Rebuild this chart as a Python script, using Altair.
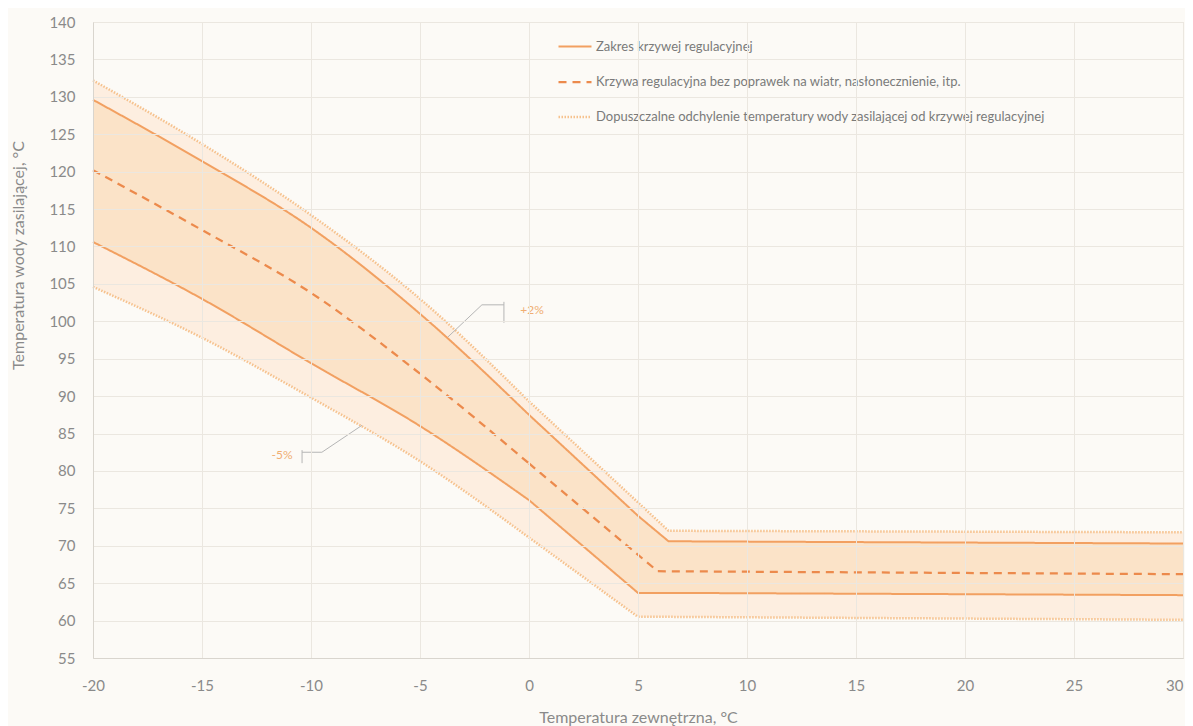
import altair as alt
import pandas as pd

# --- data ---
temps = [-20, -15, -10, -5, 0, 5, 6.4, 30]
upper_dotted = [132.2, 123.7, 114.2, 103.0, 89.3, 75.8, 72.0, 71.8]
upper_solid = [129.6, 121.4, 112.5, 101.0, 87.5, 74.0, 70.6, 70.3]
lower_solid = [110.6, 103.0, 94.4, 86.0, 76.1, 63.7, 63.7, 63.4]
lower_dotted = [104.6, 97.8, 89.8, 81.3, 71.1, 60.5, 60.5, 60.1]

temps_dashed = [-20, -15, -10, -5, 0, 5.9, 30]
dashed = [120.2, 112.2, 103.8, 93.0, 81.0, 66.6, 66.2]

series_names = [
    "Zakres krzywej regulacyjnej",
    "Krzywa regulacyjna bez poprawek na wiatr, nasłonecznienie, itp.",
    "Dopuszczalne odchylenie temperatury wody zasilającej od krzywej regulacyjnej",
]

x_ticks = list(range(-20, 31, 5))
y_ticks = list(range(55, 141, 5))

ann_labels = ["+2%", "-5%"]
ann_text_x = [0.14, -11.33]
ann_text_y = [101.5, 82.1]

# bracket leader lines (x, y pairs per path)
leader_plus = [(-3.72, 97.9), (-2.16, 102.2), (-1.15, 102.2)]
leader_plus_v = [(-1.15, 102.6), (-1.15, 99.8)]
leader_minus = [(-7.66, 86.1), (-9.5, 82.5), (-10.41, 82.5)]
leader_minus_v = [(-10.41, 82.78), (-10.41, 81.04)]

# --- tables ---
band = pd.DataFrame({
    "t": temps,
    "ud": upper_dotted,
    "us": upper_solid,
    "ls": lower_solid,
    "ld": lower_dotted,
})
band_curved = band[band["t"] <= 0]
band_straight = band[band["t"] >= 0]

rows = []
for name, xs, ys, ser in [
    ("us", temps, upper_solid, series_names[0]),
    ("ls", temps, lower_solid, series_names[0]),
    ("ud", temps, upper_dotted, series_names[2]),
    ("ld", temps, lower_dotted, series_names[2]),
    ("d", temps_dashed, dashed, series_names[1]),
]:
    for i, (t, y) in enumerate(zip(xs, ys)):
        rows.append({"t": t, "v": y, "line": name, "series": ser, "o": i})
lines_df = pd.DataFrame(rows)
lines_curved = lines_df[lines_df["t"] <= 0]
lines_straight = lines_df[lines_df["t"] >= 0]

lead_rows = []
for k, path in enumerate([leader_plus, leader_plus_v, leader_minus, leader_minus_v]):
    for i, (t, y) in enumerate(path):
        lead_rows.append({"t": t, "v": y, "g": k, "o": i})
lead_df = pd.DataFrame(lead_rows)

ann_df = pd.DataFrame({"t": ann_text_x, "v": ann_text_y, "label": ann_labels})

FONT = "Lato"
GRAY = "#8a8a8a"

xscale = alt.Scale(domain=[-20, 30], nice=False, zero=False)
yscale = alt.Scale(domain=[55, 140], nice=False, zero=False)

x_axis = alt.Axis(
    values=x_ticks, tickCount=len(x_ticks) + 2, title="Temperatura zewnętrzna, °C",
    labelExpr="'' + datum.value", labelFlush=False, labelOverlap=False,
    labelAlign=alt.condition("datum.value >= 30", alt.value("right"), alt.value("center")),
    labelPadding=20, titlePadding=16, tickSize=0, labelFontSize=15,
    titleFontSize=16, labelColor=GRAY, titleColor=GRAY,
    gridColor="#ebe7e0", domainColor="#d9d5ce", labelFont=FONT, titleFont=FONT,
    titleFontWeight="normal", zindex=1,
)
y_axis = alt.Axis(
    values=y_ticks, tickCount=len(y_ticks) + 2, title="Temperatura wody zasilającej, °C",
    labelOverlap=False, labelPadding=18, tickSize=0, labelFontSize=15,
    titleFontSize=16, labelColor=GRAY, titleColor=GRAY, gridColor="#ebe7e0",
    domainColor="#d9d5ce", labelFont=FONT, titleFont=FONT, titleFontWeight="normal",
    titleX=-75, titleY=233, titleAngle=270, titleAlign="center", titleBaseline="middle",
    zindex=1,
)


def bands(df, interp, with_axes):
    xkw = {"axis": x_axis} if with_axes else {}
    ykw = {"axis": y_axis} if with_axes else {}
    b = alt.Chart(df)
    ou = b.mark_area(color="#fdeee0", interpolate=interp).encode(
        x=alt.X("t:Q", scale=xscale, **xkw),
        y=alt.Y("ud:Q", scale=yscale, **ykw),
        y2="us:Q",
    )
    ol = b.mark_area(color="#fdeee0", interpolate=interp).encode(
        x=alt.X("t:Q", scale=xscale), y=alt.Y("ls:Q", scale=yscale), y2="ld:Q",
    )
    inn = b.mark_area(color="#fbe3c8", interpolate=interp).encode(
        x=alt.X("t:Q", scale=xscale), y=alt.Y("us:Q", scale=yscale), y2="ls:Q",
    )
    return [ou, ol, inn]


def line_layer(df, interp, with_legend):
    lg = alt.Legend(title=None) if with_legend else None
    return alt.Chart(df).mark_line(interpolate=interp).encode(
        x=alt.X("t:Q", scale=xscale),
        y=alt.Y("v:Q", scale=yscale),
        detail="line:N",
        order="o:Q",
        color=alt.Color("series:N", scale=alt.Scale(domain=series_names,
                        range=["#f2a061", "#ec8a4c", "#f6c28e"]), legend=lg),
        strokeDash=alt.StrokeDash("series:N", scale=alt.Scale(domain=series_names,
                        range=[[1, 0], [8, 6], [1.5, 1.5]]), legend=lg),
        strokeWidth=alt.StrokeWidth("series:N", scale=alt.Scale(domain=series_names,
                        range=[2, 2.5, 1.5]), legend=lg),
    )


leaders = alt.Chart(lead_df).mark_line(color="#b5b5b5", strokeWidth=1).encode(
    x=alt.X("t:Q", scale=xscale), y=alt.Y("v:Q", scale=yscale),
    detail="g:N", order="o:Q",
)

ann = alt.Chart(ann_df).mark_text(color="#f0ae72", fontSize=12, font=FONT).encode(
    x=alt.X("t:Q", scale=xscale), y=alt.Y("v:Q", scale=yscale),
    text="label:N",
)

layers = (
    bands(band_curved, "monotone", True)
    + bands(band_straight, "linear", False)
    + [line_layer(lines_curved, "monotone", True),
       line_layer(lines_straight, "linear", False),
       leaders, ann]
)

chart = alt.layer(*layers).properties(
    width=1090, height=636,
    autosize=alt.AutoSizeParams(type="none"),
    padding={"left": 85, "top": 14, "right": 2, "bottom": 68},
    background="#fcfaf6",
).configure_view(stroke="#e3dfd8", fill="#fcfaf6").configure_axis(
    labelOverlap=False,
).configure_legend(
    orient="none", legendX=464, legendY=7, padding=0,
    symbolType="stroke", symbolSize=1089, rowPadding=10, labelOffset=3,
    labelFontSize=13, labelColor="#7a7a7a", labelFont=FONT, labelLimit=700,
    symbolStrokeWidth=2,
)

chart.save("out.html", embed_options={"renderer": "svg", "actions": False})
